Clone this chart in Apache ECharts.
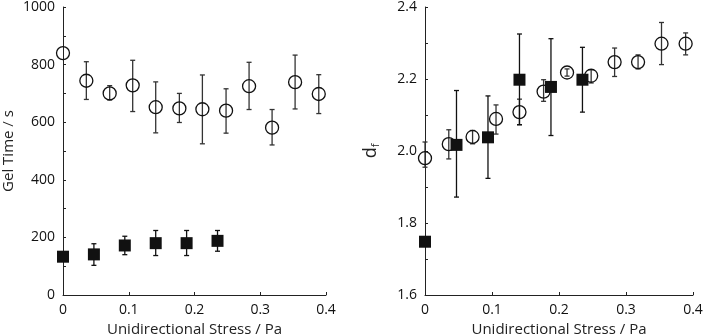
<!DOCTYPE html>
<html>
<head>
<meta charset="utf-8">
<script src="https://cdn.jsdelivr.net/npm/echarts@6/dist/echarts.min.js"></script>
<style>
  html, body { margin: 0; padding: 0; background: #fff; }
  #main { width: 703px; height: 335px; }
</style>
</head>
<body>
<div id="main"></div>
<script>
// stress values (Pa)
const circleStress = [0, 0.0355, 0.071, 0.106, 0.141, 0.177, 0.212, 0.248, 0.283, 0.318, 0.353, 0.389];
const squareStress = [0, 0.047, 0.094, 0.141, 0.188, 0.235];

// gel time (s) - open circles
const gelCircle = [840, 744, 700, 728, 652, 648, 645, 640, 725, 581, 739, 698];
const gelCircleLo = [840, 679, 677, 637, 563, 599, 525, 562, 644, 521, 646, 630];
const gelCircleHi = [840, 810, 727, 815, 740, 700, 764, 716, 808, 644, 833, 765];

// gel time (s) - filled squares
const gelSquare = [133, 141, 172, 180, 180, 188];
const gelSquareLo = [133, 103, 140, 137, 137, 152];
const gelSquareHi = [133, 178, 204, 224, 224, 224];

// fractal dimension - open circles
const dfCircle = [1.98, 2.019, 2.039, 2.089, 2.108, 2.165, 2.218, 2.209, 2.247, 2.247, 2.298, 2.298];
const dfCircleLo = [1.955, 1.978, 2.020, 2.047, 2.073, 2.138, 2.208, 2.189, 2.207, 2.228, 2.240, 2.267];
const dfCircleHi = [2.025, 2.059, 2.057, 2.128, 2.144, 2.198, 2.228, 2.226, 2.286, 2.267, 2.357, 2.328];

// fractal dimension - filled squares
const dfSquare = [1.748, 2.017, 2.038, 2.198, 2.178, 2.198];
const dfSquareLo = [1.748, 1.872, 1.924, 2.073, 2.043, 2.108];
const dfSquareHi = [1.748, 2.168, 2.153, 2.325, 2.312, 2.288];

const FONT = "'Open Sans', 'Noto Sans', sans-serif";
const AX = '#222';

function pts(xs, ys) { return xs.map((x, i) => [x, ys[i]]); }
function bars(xs, lo, hi) { return xs.map((x, i) => [x, lo[i], hi[i]]); }

function errRender(color) {
  return function (params, api) {
    const lo = api.value(1), hi = api.value(2);
    if (hi - lo <= 0) return null;
    const a = api.coord([api.value(0), hi]);
    const b = api.coord([api.value(0), lo]);
    const w = 2.5;
    const st = { stroke: color, lineWidth: 1.3 };
    return {
      type: 'group',
      children: [
        { type: 'line', shape: { x1: a[0], y1: a[1], x2: b[0], y2: b[1] }, style: st },
        { type: 'line', shape: { x1: a[0] - w, y1: a[1], x2: a[0] + w, y2: a[1] }, style: st },
        { type: 'line', shape: { x1: b[0] - w, y1: b[1], x2: b[0] + w, y2: b[1] }, style: st }
      ]
    };
  };
}

function xAxisDef(gi) {
  return {
    gridIndex: gi, type: 'value', min: 0, max: 0.4, interval: 0.1,
    name: 'Unidirectional Stress / Pa', nameLocation: 'middle', nameGap: 24,
    nameTextStyle: { fontFamily: FONT, fontSize: 15, color: '#222' },
    axisLine: { show: true, lineStyle: { color: AX, width: 1 } },
    axisTick: { show: true, inside: true, length: 3, lineStyle: { color: AX } },
    axisLabel: { fontFamily: FONT, fontSize: 14, color: '#111', margin: 8,
      formatter: v => (v === 0 ? '0' : v.toFixed(1)) },
    splitLine: { show: false }
  };
}

const chart = echarts.init(document.getElementById('main'));
chart.setOption({
  animation: false,
  grid: [
    { left: 63, right: 377, top: 7, bottom: 40, outerBoundsMode: 'none', containLabel: false },
    { left: 425, right: 10, top: 7, bottom: 40, outerBoundsMode: 'none', containLabel: false }
  ],
  xAxis: [xAxisDef(0), xAxisDef(1)],
  yAxis: [
    {
      gridIndex: 0, type: 'value', min: 0, max: 1000, interval: 200,
      name: 'Gel Time / s', nameLocation: 'middle', nameGap: 47,
      nameTextStyle: { fontFamily: FONT, fontSize: 15, color: '#222' },
      axisLine: { show: true, lineStyle: { color: AX, width: 1 } },
      axisTick: { show: true, inside: true, length: 3, lineStyle: { color: AX } },
      minorTick: { show: true, splitNumber: 2, length: 3, lineStyle: { color: AX } },
      axisLabel: { fontFamily: FONT, fontSize: 14, color: '#111', margin: 8,
        formatter: v => String(v) },
      splitLine: { show: false }
    },
    {
      gridIndex: 1, type: 'value', min: 1.6, max: 2.4, interval: 0.2,
      name: '{d|d}{f|f}', nameLocation: 'middle', nameGap: 44,
      nameTextStyle: {
        fontFamily: FONT, color: '#222',
        rich: {
          d: { fontFamily: FONT, fontSize: 18, color: '#222' },
          f: { fontFamily: FONT, fontSize: 11, color: '#222', padding: [10, 0, 0, 0] }
        }
      },
      axisLine: { show: true, lineStyle: { color: AX, width: 1 } },
      axisTick: { show: true, inside: true, length: 3, lineStyle: { color: AX } },
      minorTick: { show: true, splitNumber: 2, length: 3, lineStyle: { color: AX } },
      axisLabel: { fontFamily: FONT, fontSize: 14, color: '#111', margin: 8,
        formatter: v => v.toFixed(1) },
      splitLine: { show: false }
    }
  ],
  series: [
    { type: 'custom', xAxisIndex: 0, yAxisIndex: 0, renderItem: errRender('#333'),
      encode: { x: 0, y: [1, 2] }, data: bars(circleStress, gelCircleLo, gelCircleHi), z: 1 },
    { type: 'custom', xAxisIndex: 0, yAxisIndex: 0, renderItem: errRender('#111'),
      encode: { x: 0, y: [1, 2] }, data: bars(squareStress, gelSquareLo, gelSquareHi), z: 1 },
    { type: 'scatter', xAxisIndex: 0, yAxisIndex: 0, symbol: 'circle', symbolSize: 13,
      itemStyle: { color: 'rgba(255,255,255,0)', borderColor: '#111', borderWidth: 1.3, opacity: 1 },
      data: pts(circleStress, gelCircle), z: 3 },
    { type: 'scatter', xAxisIndex: 0, yAxisIndex: 0, symbol: 'rect', symbolSize: 12,
      itemStyle: { color: '#111', opacity: 1 }, data: pts(squareStress, gelSquare), z: 3 },

    { type: 'custom', xAxisIndex: 1, yAxisIndex: 1, renderItem: errRender('#333'),
      encode: { x: 0, y: [1, 2] }, data: bars(circleStress, dfCircleLo, dfCircleHi), z: 1 },
    { type: 'custom', xAxisIndex: 1, yAxisIndex: 1, renderItem: errRender('#111'),
      encode: { x: 0, y: [1, 2] }, data: bars(squareStress, dfSquareLo, dfSquareHi), z: 1 },
    { type: 'scatter', xAxisIndex: 1, yAxisIndex: 1, symbol: 'circle', symbolSize: 13,
      itemStyle: { color: 'rgba(255,255,255,0)', borderColor: '#111', borderWidth: 1.3, opacity: 1 },
      data: pts(circleStress, dfCircle), z: 3 },
    { type: 'scatter', xAxisIndex: 1, yAxisIndex: 1, symbol: 'rect', symbolSize: 12,
      itemStyle: { color: '#111', opacity: 1 }, data: pts(squareStress, dfSquare), z: 3 }
  ]
});
</script>
</body>
</html>
